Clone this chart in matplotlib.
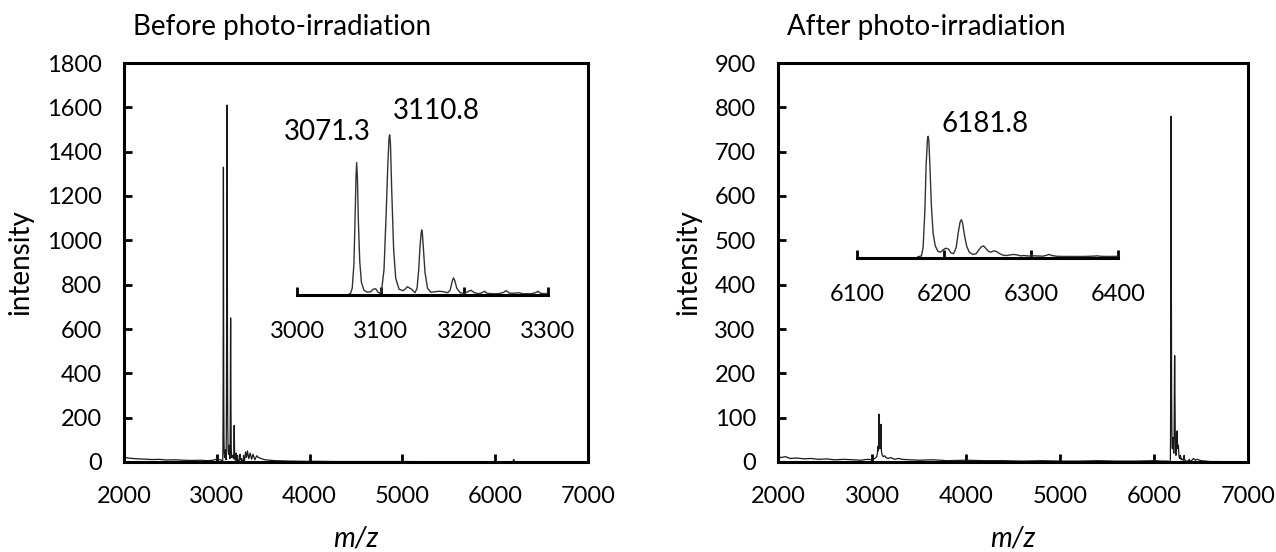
import numpy as np
import matplotlib.pyplot as plt

plt.rcParams['font.family'] = ['Lato', 'DejaVu Sans']

# ---- data (m/z, intensity) ----
# Before photo-irradiation
before_low_mz = [2000, 2040, 2090, 2150, 2220, 2300, 2380, 2460, 2550, 2640, 2730, 2820, 2900, 2960, 2990, 3010, 3030, 3050]
before_low_int = [22, 18, 16, 14, 13, 11, 12, 9, 10, 8, 7, 8, 6, 8, 12, 9, 11, 8]

before_zoom_mz = [3062, 3064, 3066, 3068, 3069.5, 3070.5, 3071.3, 3072.2, 3073.3, 3075, 3077, 3080, 3084,
                  3088, 3091, 3094, 3097, 3099, 3101, 3104, 3106.5, 3108.5, 3110, 3110.8, 3111.7, 3113.2,
                  3115.5, 3118, 3122, 3127, 3132, 3137, 3141, 3143.5, 3145.5, 3147, 3148.3, 3149, 3149.8,
                  3151, 3153, 3156, 3160, 3165, 3170, 3175, 3180, 3183, 3185.5, 3187, 3188.5, 3191, 3195,
                  3200, 3204, 3208, 3212, 3217, 3221, 3224, 3227, 3232, 3240, 3246, 3250, 3254, 3260, 3265,
                  3270, 3280, 3285, 3288, 3291, 3296, 3300]
before_zoom_int = [0, 10, 60, 300, 800, 1180, 1330, 1180, 750, 330, 120, 40, 20,
                   25, 50, 55, 20, 10, 30, 250, 800, 1300, 1580, 1610, 1520, 1050,
                   450, 160, 50, 35, 75, 50, 15, 60, 250, 480, 610, 650, 620,
                   470, 220, 60, 20, 25, 30, 25, 15, 40, 130, 165, 140, 60, 15,
                   8, 25, 40, 15, 5, 15, 30, 10, 5, 5, 15, 35, 10, 10, 15,
                   5, 5, 15, 30, 10, 5, 10]

before_tail_mz = [3310, 3320, 3330, 3345, 3360, 3375, 3390, 3410, 3430, 3450, 3480, 3520, 3570, 3630, 3700,
                  3800, 3950, 4100, 4300, 4500, 4800, 5100, 5400, 5700, 6000, 6190, 6200, 6210, 6400, 6700, 7000]
before_tail_int = [45, 20, 50, 15, 40, 12, 35, 10, 28, 20, 15, 10, 8, 6, 5,
                   4, 3, 3, 2, 2, 2, 2, 1, 1, 1, 1, 12, 1, 1, 0, 0]

# After photo-irradiation
after_low_mz = [2000, 2030, 2080, 2130, 2200, 2280, 2350, 2430, 2520, 2600, 2700, 2800, 2880, 2950, 3000, 3030, 3050]
after_low_int = [14, 10, 12, 8, 9, 7, 8, 6, 7, 5, 6, 5, 4, 6, 5, 8, 12]

after_dimer_mz = [3058, 3062, 3066, 3070, 3075, 3080, 3084, 3090, 3096, 3100, 3104, 3110, 3120, 3135, 3150, 3170, 3200, 3240, 3280]
after_dimer_int = [20, 35, 25, 38, 108, 40, 30, 35, 85, 25, 20, 15, 12, 14, 10, 8, 10, 6, 8]

after_mid_mz = [3320, 3400, 3500, 3650, 3800, 4000, 4200, 4400, 4600, 4800, 5000, 5200, 5400, 5600, 5800, 6000, 6100, 6150]
after_mid_int = [6, 5, 4, 5, 3, 4, 3, 3, 2, 3, 2, 2, 3, 2, 2, 3, 2, 2]

after_zoom_mz = [6170, 6174, 6176, 6178, 6179.5, 6181, 6181.8, 6182.6, 6184, 6185.5, 6187.5, 6190, 6193, 6196,
                 6199, 6202, 6205, 6208, 6211, 6214, 6216.5, 6218.5, 6220, 6221.5, 6223.5, 6226, 6229, 6233,
                 6237, 6240, 6243, 6245.5, 6248, 6251, 6254, 6257, 6260, 6264, 6268, 6272, 6276, 6280, 6284,
                 6288, 6292, 6297, 6302, 6308, 6314, 6318, 6321, 6324, 6330, 6340, 6360, 6372, 6376, 6380,
                 6390, 6400]
after_zoom_int = [0, 5, 60, 300, 600, 760, 780, 750, 560, 330, 150, 70, 35, 30,
                  45, 55, 50, 25, 20, 60, 160, 225, 240, 215, 140, 70, 30, 15,
                  20, 45, 65, 70, 55, 35, 30, 38, 35, 20, 10, 8, 12, 15, 12,
                  6, 8, 5, 6, 5, 4, 10, 15, 8, 3, 2, 2, 4, 6, 3,
                  2, 3]

after_tail_mz = [6420, 6440, 6460, 6500, 6550, 6600, 6700, 6850, 7000]
after_tail_int = [8, 4, 6, 3, 2, 1, 1, 0, 0]

before_labels = ['3071.3', '3110.8']
after_label = '6181.8'

W, H = 1276, 552
fig = plt.figure(figsize=(W / 100, H / 100), dpi=100)


def px_axes(x0, x1, ytop, ybot):
    return fig.add_axes([x0 / W, 1 - ybot / H, (x1 - x0) / W, (ybot - ytop) / H])


def style_main(ax, ymax, ystep, title, ylab_x):
    ax.set_xlim(2000, 7000)
    ax.set_ylim(0, ymax)
    ax.set_xticks(np.arange(2000, 7001, 1000))
    ax.set_yticks(np.arange(0, ymax + 1, ystep))
    for s in ax.spines.values():
        s.set_linewidth(2.2)
    ax.tick_params(axis='both', direction='in', length=6, width=2, labelsize=17,
                   top=False, right=False, pad=16)
    ax.tick_params(axis='x', pad=17)
    ax.set_xlabel('m/z', fontsize=20, fontstyle='italic')
    ax.xaxis.set_label_coords(0.5, -0.16)
    ax.set_ylabel('intensity', fontsize=20)
    ax.yaxis.set_label_coords(ylab_x, 0.5)
    ax.text(0.02, 1.09, title, transform=ax.transAxes, fontsize=20, va='center', ha='left')


def style_inset(ax, lo, hi, ytop):
    ax.set_xlim(lo, hi)
    ax.set_ylim(-8, ytop)
    ax.set_facecolor('none')
    for k in ['left', 'top', 'right']:
        ax.spines[k].set_visible(False)
    ax.spines['bottom'].set_linewidth(2.2)
    ax.set_yticks([])
    ax.set_xticks(np.arange(lo, hi + 1, 100))
    ax.tick_params(axis='x', direction='in', length=6, width=2, labelsize=17, pad=19)


# ---- left panel ----
ax1 = px_axes(124, 588, 63, 462)
mz1 = before_low_mz + before_zoom_mz + before_tail_mz
in1 = before_low_int + before_zoom_int + before_tail_int
ax1.plot(mz1, in1, color='#1a1a1a', lw=0.9)
style_main(ax1, 1800, 200, 'Before photo-irradiation', -0.196)

ins1 = px_axes(297, 548, 120, 295)
ins1.plot(before_zoom_mz, before_zoom_int, color='#333333', lw=1.0)
style_inset(ins1, 3000, 3300, 1760)
ins1.text(3036, 1640, before_labels[0], fontsize=20, ha='center', va='center')
ins1.text(3167, 1850, before_labels[1], fontsize=20, ha='center', va='center')

# ---- right panel ----
ax2 = px_axes(778, 1248, 63, 462)
mz2 = after_low_mz + after_dimer_mz + after_mid_mz + after_zoom_mz + after_tail_mz
in2 = after_low_int + after_dimer_int + after_mid_int + after_zoom_int + after_tail_int
ax2.plot(mz2, in2, color='#1a1a1a', lw=0.9)
style_main(ax2, 900, 100, 'After photo-irradiation', -0.162)

ins2 = px_axes(857, 1118, 120, 258)
ins2.plot(after_zoom_mz, after_zoom_int, color='#333333', lw=1.0)
style_inset(ins2, 6100, 6400, 885)
ins2.text(6247, 860, after_label, fontsize=20, ha='center', va='center')

fig.savefig('out.png', dpi=100)
